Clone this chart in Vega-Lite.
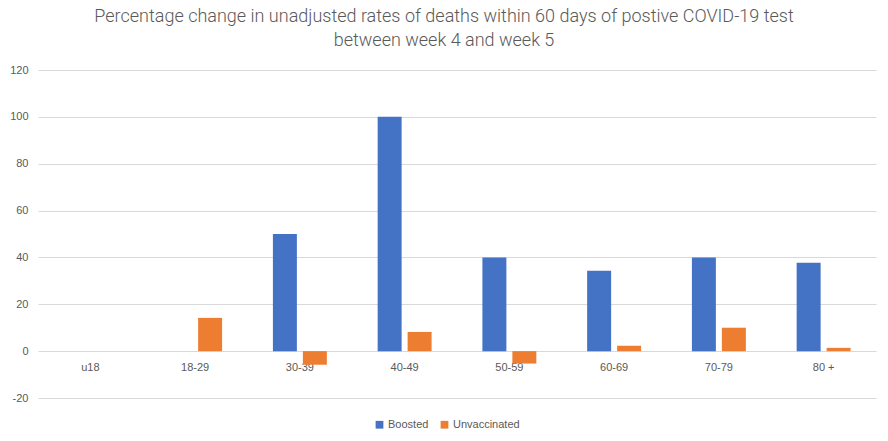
{
  "$schema": "https://vega.github.io/schema/vega-lite/v6.json",
  "width": 838,
  "height": 328,
  "autosize": {"type": "none"},
  "padding": {"top": 70, "left": 38, "right": 12, "bottom": 43},
  "background": "white",
  "title": {
    "text": ["Percentage change in unadjusted rates of deaths within 60 days of postive COVID-19 test", "between week 4 and week 5"],
    "font": "Roboto",
    "fontSize": 18,
    "fontWeight": 300,
    "color": "#595959",
    "lineHeight": 24,
    "anchor": "middle",
    "dx": -13,
    "offset": 14
  },
  "config": {
    "view": {"stroke": null},
    "font": "Liberation Sans",
    "axis": {"labelColor": "#595959", "labelFontSize": 11, "labelFont": "Liberation Sans"}
  },
  "data": {
    "values": [
      {"age": "u18", "series": "Boosted", "value": 0},
      {"age": "u18", "series": "Unvaccinated", "value": 0},
      {"age": "18-29", "series": "Boosted", "value": 0},
      {"age": "18-29", "series": "Unvaccinated", "value": 14.2},
      {"age": "30-39", "series": "Boosted", "value": 50},
      {"age": "30-39", "series": "Unvaccinated", "value": -5.8},
      {"age": "40-49", "series": "Boosted", "value": 100},
      {"age": "40-49", "series": "Unvaccinated", "value": 8.2},
      {"age": "50-59", "series": "Boosted", "value": 40},
      {"age": "50-59", "series": "Unvaccinated", "value": -5.3},
      {"age": "60-69", "series": "Boosted", "value": 34.3},
      {"age": "60-69", "series": "Unvaccinated", "value": 2.3},
      {"age": "70-79", "series": "Boosted", "value": 40},
      {"age": "70-79", "series": "Unvaccinated", "value": 10},
      {"age": "80 +", "series": "Boosted", "value": 37.7},
      {"age": "80 +", "series": "Unvaccinated", "value": 1.4}
    ]
  },
  "mark": {"type": "bar"},
  "encoding": {
    "x": {
      "field": "age",
      "type": "nominal",
      "sort": ["u18", "18-29", "30-39", "40-49", "50-59", "60-69", "70-79", "80 +"],
      "scale": {"paddingInner": 0.485, "paddingOuter": 0.2425},
      "axis": {"title": null, "labelAngle": 0, "ticks": false, "domain": false, "offset": -46.7, "labelPadding": 10}
    },
    "xOffset": {
      "field": "series",
      "type": "nominal",
      "scale": {"paddingInner": 0.2, "paddingOuter": 0}
    },
    "y": {
      "field": "value",
      "type": "quantitative",
      "scale": {"domain": [-20, 120], "nice": false},
      "axis": {"title": null, "values": [-20, 0, 20, 40, 60, 80, 100, 120], "labelExpr": "datum.value + ''", "ticks": false, "domain": false, "gridColor": "#d9d9d9", "gridWidth": 1, "labelPadding": 10}
    },
    "color": {
      "field": "series",
      "type": "nominal",
      "scale": {"domain": ["Boosted", "Unvaccinated"], "range": ["#4472C4", "#ED7D31"]},
      "legend": {
        "title": null,
        "orient": "none",
        "direction": "horizontal",
        "legendX": 336,
        "legendY": 349,
        "symbolType": "square",
        "symbolSize": 60,
        "symbolStrokeWidth": 0,
        "labelFontSize": 11,
        "labelColor": "#595959",
        "columnPadding": 10,
        "labelOffset": 3
      }
    }
  }
}
